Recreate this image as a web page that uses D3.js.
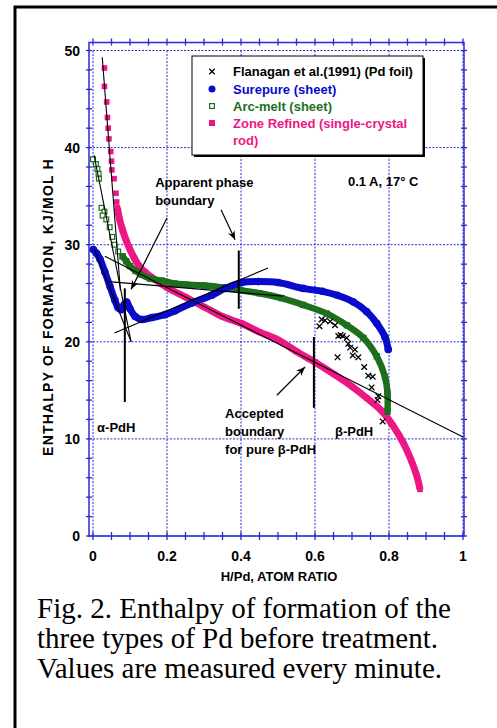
<!DOCTYPE html>
<html>
<head>
<meta charset="utf-8">
<script src="https://cdn.jsdelivr.net/npm/d3@7"></script>
<style>
  body { margin: 0; background: #fff; }
  svg { display: block; }
  text { font-family: "Liberation Sans", Arial, sans-serif; font-weight: bold; }
</style>
</head>
<body>
<svg id="chart" width="497" height="728"></svg>
<script>
// ---- data (H/Pd ratio, kJ/mol H) ----
var xTicks = [0, 0.2, 0.4, 0.6, 0.8, 1];
var xTickLabels = ["0", "0.2", "0.4", "0.6", "0.8", "1"];
var yTicks = [0, 10, 20, 30, 40, 50];
var yTickLabels = ["0", "10", "20", "30", "40", "50"];

var flanagan = [[0.612,21.6],[0.618,22.3],[0.627,22.2],[0.641,22.1],[0.654,21.7],[0.663,20.6],[0.669,20.7],
    [0.675,20.6],[0.686,20.4],[0.690,19.8],[0.695,19.4],[0.708,19.2],[0.702,18.6],[0.717,18.4],[0.661,18.4],
    [0.733,17.4],[0.744,16.5],[0.756,16.4],[0.753,15.3],[0.771,14.4],[0.769,14.0],[0.783,11.8]];

var surepure = [[0.001,29.5],[0.01,29.1],[0.019,28.5],[0.032,27.2],[0.046,25.7],[0.059,24.3],[0.068,23.5],
    [0.076,23.3],[0.084,23.8],[0.091,24.1],[0.1,23.4],[0.114,22.6],[0.132,22.3],[0.16,22.5],[0.195,22.8],
    [0.222,23.2],[0.267,24.0],[0.321,24.8],[0.357,25.5],[0.402,26.1],[0.447,26.2],[0.5,26.1],[0.568,25.5],
    [0.62,25.2],[0.66,24.8],[0.704,24.1],[0.74,23.1],[0.767,21.9],[0.789,20.5],[0.798,19.2]];

var arcSparse = [[0.0,38.8],[0.008,38.3],[0.012,37.8],[0.015,37.3],[0.016,36.8],[0.023,33.8],[0.031,33.4],
    [0.026,33.0],[0.036,32.6],[0.045,31.8],[0.052,30.8],[0.058,30.0],[0.068,29.3],[0.08,28.8]];
var arcDense = [[0.08,28.8],[0.09,28.3],[0.1,27.8],[0.115,27.3],[0.132,26.9],[0.155,26.5],[0.186,26.3],
    [0.22,26.0],[0.25,25.9],[0.3,25.8],[0.35,25.6],[0.4,25.3],[0.45,25.0],[0.51,24.5],[0.568,23.8],
    [0.632,22.9],[0.686,21.7],[0.731,20.4],[0.767,18.5],[0.789,16.4],[0.796,14.7],[0.796,12.8]];

var zoneSparse = [[0.031,48.2],[0.031,46.3],[0.037,44.7],[0.039,43.1],[0.041,42.0],[0.043,40.9],[0.048,39.6],
    [0.050,38.6],[0.051,37.7],[0.057,36.8],[0.062,35.3],[0.064,34.4]];
var zoneDense = [[0.066,33.8],[0.072,32.6],[0.08,31.5],[0.09,30.4],[0.1,29.5],[0.112,28.6],[0.125,27.8],
    [0.14,27.2],[0.16,26.6],[0.2,25.6],[0.25,24.6],[0.3,23.6],[0.35,22.6],[0.4,21.9],[0.45,21.0],[0.5,20.2],
    [0.55,19.0],[0.6,17.9],[0.65,16.7],[0.7,15.4],[0.74,14.2],[0.78,12.9],[0.81,11.4],[0.84,9.5],
    [0.86,7.8],[0.875,6.2],[0.884,4.8]];

// hand-drawn fit lines, boundary bars and arrows
var fitLines = [[[0.025,49.3],[0.074,25.3]], [[0.003,39.2],[0.103,20.0]], [[0.003,29.6],[0.103,20.0]],
    [[0.042,26.2],[0.514,24.7]], [[0.032,28.8],[1.0,10.2]], [[0.058,20.9],[0.473,27.6]]];
var bars = [[0.086,25.5,13.8], [0.394,29.4,23.4], [0.597,20.5,13.2]];
var arrows = [[[0.2,32.75],[0.103,25.4]], [[0.346,33.6],[0.384,30.5]], [[0.497,14.5],[0.573,17.4]]];

var legendNames = ["Flanagan et al.(1991) (Pd foil)", "Surepure (sheet)", "Arc-melt (sheet)", "Zone Refined (single-crystal", "rod)"];
var notes = [["Apparent phase",0.168,35.9],["boundary",0.168,34.1],["0.1 A, 17\u00b0 C",0.689,36.0],["\u03b1-PdH",0.011,10.7],
    ["Accepted",0.357,12.2],["boundary",0.357,10.3],["for pure \u03b2-PdH",0.357,8.4],["\u03b2-PdH",0.654,10.3]];
var caption = ["Fig. 2. Enthalpy of formation of the", "three types of Pd before treatment.", "Values are measured every minute."];

var BLUE = "#0a0acc", GREEN = "#1d6f1d", PINK = "#ee1684", GRID = "#2b2bd0";

var svg = d3.select("#chart");
var x = d3.scaleLinear().domain([0, 1]).range([93, 463]);
var y = d3.scaleLinear().domain([0, 50]).range([536, 50.5]);

// outer page border
svg.append("rect").attr("x", 15).attr("y", 7).attr("width", 520).attr("height", 800)
    .attr("fill", "none").attr("stroke", "#000").attr("stroke-width", 3);

// dotted grid
svg.selectAll(".gx").data(xTicks).enter().append("line")
    .attr("x1", d => x(d)).attr("x2", d => x(d)).attr("y1", y(50)).attr("y2", y(0))
    .attr("stroke", GRID).attr("stroke-width", 1).attr("stroke-dasharray", "2,1.5");
svg.selectAll(".gy").data(yTicks).enter().append("line")
    .attr("x1", x(0)).attr("x2", x(1)).attr("y1", d => y(d)).attr("y2", d => y(d))
    .attr("stroke", GRID).attr("stroke-width", 1).attr("stroke-dasharray", "2,1.5");

// frame + ticks
var fl = x(0) - 4, fr = x(1) + 1, ft = y(50) - 8, fb = y(0);
svg.append("rect").attr("x", fl).attr("y", ft).attr("width", fr - fl).attr("height", fb - ft)
    .attr("fill", "none").attr("stroke", GRID).attr("stroke-width", 1.5);
var minorX = d3.range(0, 1.0001, 0.05), minorY = d3.range(0, 50.001, 2);
svg.selectAll(".tb").data(minorX).enter().append("line")
    .attr("x1", d => x(d)).attr("x2", d => x(d)).attr("y1", fb - 4).attr("y2", fb + 4)
    .attr("stroke", GRID).attr("stroke-width", 1.3);
svg.selectAll(".tt").data(minorX).enter().append("line")
    .attr("x1", d => x(d)).attr("x2", d => x(d)).attr("y1", ft - 4).attr("y2", ft + 3)
    .attr("stroke", GRID).attr("stroke-width", 1.3);
svg.selectAll(".tl").data(minorY).enter().append("line")
    .attr("x1", fl - 3).attr("x2", fl + 3).attr("y1", d => y(d)).attr("y2", d => y(d))
    .attr("stroke", GRID).attr("stroke-width", 1.3);
svg.selectAll(".tr").data(minorY).enter().append("line")
    .attr("x1", fr - 3).attr("x2", fr + 3).attr("y1", d => y(d)).attr("y2", d => y(d))
    .attr("stroke", GRID).attr("stroke-width", 1.3);

// tick labels
svg.selectAll(".lx").data(xTicks).enter().append("text")
    .attr("x", d => x(d)).attr("y", 561).attr("text-anchor", "middle").attr("font-size", 14)
    .text((d, i) => xTickLabels[i]);
svg.selectAll(".ly").data(yTicks).enter().append("text")
    .attr("x", 80).attr("y", d => y(d) + 5).attr("text-anchor", "end").attr("font-size", 14)
    .text((d, i) => yTickLabels[i]);

// axis titles
svg.append("text").attr("x", 279).attr("y", 581).attr("text-anchor", "middle").attr("font-size", 13)
    .text("H/Pd, ATOM RATIO");
svg.append("text").attr("transform", "translate(53,307) rotate(-90)").attr("text-anchor", "middle")
    .attr("font-size", 14).attr("letter-spacing", 1.2).text("ENTHALPY OF FORMATION, KJ/MOL H");

// series
var line = d3.line().x(d => x(d[0])).y(d => y(d[1])).curve(d3.curveCatmullRom);

svg.append("path").attr("d", line(zoneDense)).attr("fill", "none").attr("stroke", PINK).attr("stroke-width", 7);
svg.selectAll(".zs").data(zoneSparse.concat(zoneDense)).enter().append("rect")
    .attr("x", d => x(d[0]) - 2.8).attr("y", d => y(d[1]) - 2.8).attr("width", 5.6).attr("height", 5.6)
    .attr("fill", PINK);

svg.append("path").attr("d", line(arcDense)).attr("fill", "none").attr("stroke", GREEN).attr("stroke-width", 6.5);
svg.selectAll(".as").data(arcSparse).enter().append("rect")
    .attr("x", d => x(d[0]) - 2.4).attr("y", d => y(d[1]) - 2.4).attr("width", 4.8).attr("height", 4.8)
    .attr("fill", "#fff").attr("stroke", GREEN).attr("stroke-width", 1.2);
svg.selectAll(".ad").data(arcDense).enter().append("rect")
    .attr("x", d => x(d[0]) - 3.2).attr("y", d => y(d[1]) - 3.2).attr("width", 6.4).attr("height", 6.4)
    .attr("fill", GREEN);

svg.append("path").attr("d", line(surepure)).attr("fill", "none").attr("stroke", BLUE)
    .attr("stroke-width", 7).attr("stroke-linecap", "round");
svg.selectAll(".sp").data(surepure).enter().append("circle")
    .attr("cx", d => x(d[0])).attr("cy", d => y(d[1])).attr("r", 3.8).attr("fill", BLUE);

svg.selectAll(".fx").data(flanagan).enter().append("path")
    .attr("transform", d => "translate(" + x(d[0]) + "," + y(d[1]) + ")")
    .attr("d", d3.symbol(d3.symbolX, 22)).attr("fill", "none").attr("stroke", "#000").attr("stroke-width", 1.3);

// fit lines, bars, arrows
svg.selectAll(".fit").data(fitLines).enter().append("line")
    .attr("x1", d => x(d[0][0])).attr("y1", d => y(d[0][1])).attr("x2", d => x(d[1][0])).attr("y2", d => y(d[1][1]))
    .attr("stroke", "#000").attr("stroke-width", 1.1);
svg.selectAll(".bar").data(bars).enter().append("line")
    .attr("x1", d => x(d[0])).attr("x2", d => x(d[0])).attr("y1", d => y(d[1])).attr("y2", d => y(d[2]))
    .attr("stroke", "#000").attr("stroke-width", 2);

svg.append("defs").append("marker").attr("id", "ah").attr("viewBox", "0 0 10 10")
    .attr("refX", 10).attr("refY", 5).attr("markerWidth", 9).attr("markerHeight", 9)
    .attr("markerUnits", "userSpaceOnUse").attr("orient", "auto")
    .append("path").attr("d", "M0,1 L10,5 L0,9 L3,5 Z").attr("fill", "#000");
svg.selectAll(".arr").data(arrows).enter().append("line")
    .attr("x1", d => x(d[0][0])).attr("y1", d => y(d[0][1])).attr("x2", d => x(d[1][0])).attr("y2", d => y(d[1][1]))
    .attr("stroke", "#000").attr("stroke-width", 1.2).attr("marker-end", "url(#ah)");

// annotations
svg.selectAll(".note").data(notes).enter().append("text")
    .attr("x", d => x(d[1])).attr("y", d => y(d[2])).attr("font-size", 13).text(d => d[0]);

// legend
var lg = svg.append("g");
lg.append("rect").attr("x", 194).attr("y", 58).attr("width", 231).attr("height", 99).attr("fill", "#000");
lg.append("rect").attr("x", 192).attr("y", 56).attr("width", 231).attr("height", 99)
    .attr("fill", "#fff").attr("stroke", "#000").attr("stroke-width", 1);
var lgColors = ["#000", BLUE, GREEN, PINK, PINK];
var lgY = [76, 94, 110.5, 127.5, 145];
lg.selectAll("text").data(legendNames).enter().append("text")
    .attr("x", 233).attr("y", (d, i) => lgY[i]).attr("font-size", 13).attr("fill", (d, i) => lgColors[i]).text(d => d);
lg.append("path").attr("transform", "translate(212,71.5)").attr("d", d3.symbol(d3.symbolX, 22))
    .attr("fill", "none").attr("stroke", "#000").attr("stroke-width", 1.3);
lg.append("circle").attr("cx", 212).attr("cy", 89).attr("r", 3.5).attr("fill", BLUE);
lg.append("rect").attr("x", 209.6).attr("y", 103.6).attr("width", 4.8).attr("height", 4.8)
    .attr("fill", "#fff").attr("stroke", GREEN).attr("stroke-width", 1.2);
lg.append("rect").attr("x", 209).attr("y", 120).attr("width", 6).attr("height", 6).attr("fill", PINK);

// caption
svg.selectAll(".cap").data(caption).enter().append("text")
    .attr("x", 37).attr("y", (d, i) => 618 + i * 30)
    .style("font-family", "'Liberation Serif', 'Times New Roman', serif").style("font-weight", "normal")
    .attr("font-size", 29).text(d => d);
</script>
</body>
</html>
